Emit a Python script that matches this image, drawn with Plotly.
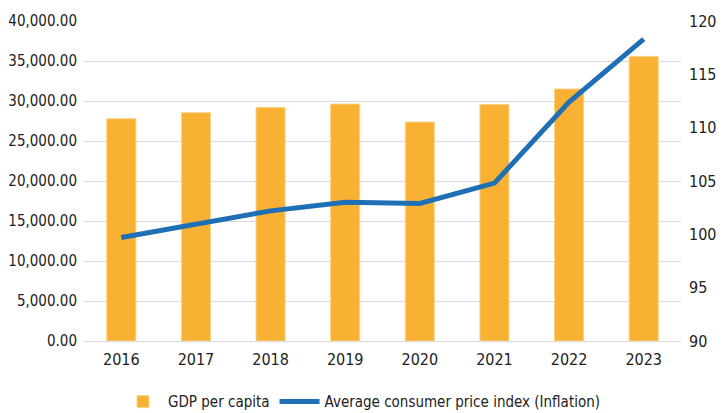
import plotly.graph_objects as go

years = ["2016", "2017", "2018", "2019", "2020", "2021", "2022", "2023"]
gdp_per_capita = [27790, 28540, 29200, 29620, 27370, 29580, 31500, 35580]
cpi = [99.7, 101.0, 102.2, 103.0, 102.9, 104.8, 112.4, 118.3]

FONT = "DejaVu Sans Condensed, Liberation Sans Narrow, DejaVu Sans"

fig = go.Figure()
fig.add_trace(go.Bar(
    x=years, y=gdp_per_capita, name="GDP per capita",
    marker=dict(color="#F8B133", line=dict(color="#FBD48A", width=1)),
    yaxis="y",
))
fig.add_trace(go.Scatter(
    x=years, y=cpi, name="Average consumer price index (Inflation)",
    mode="lines", line=dict(color="#1F6FB7", width=5),
    yaxis="y2",
))

fig.update_layout(
    width=723, height=413,
    margin=dict(l=84, r=42, t=21, b=72, autoexpand=False),
    paper_bgcolor="white", plot_bgcolor="white",
    font=dict(family=FONT, size=15, color="#222222"),
    bargap=0.61,
    showlegend=True,
    legend=dict(orientation="h", x=0.5, xanchor="center", xref="container",
                y=0.027, yanchor="middle", yref="container",
                font=dict(size=15, family=FONT),
                itemwidth=40, traceorder="normal"),
    xaxis=dict(showgrid=False, showline=True, linecolor="#d9d9d9", linewidth=1,
               ticks="", tickfont=dict(size=16), ticklabelstandoff=4),
    yaxis=dict(range=[0, 40000], dtick=5000, tickformat=",.2f",
               showgrid=True, gridcolor="#d9d9d9", gridwidth=1,
               zeroline=False, ticks="", ticklabelstandoff=6,
               tickfont=dict(size=15)),
    yaxis2=dict(range=[90, 120], dtick=5, overlaying="y", side="right",
                showgrid=False, zeroline=False, ticks="", ticklabelstandoff=7,
                tickfont=dict(size=16)),
)

fig.write_html("out.html", config={"displayModeBar": False},
               post_script="document.body.style.margin='0';document.body.style.overflow='hidden';")
